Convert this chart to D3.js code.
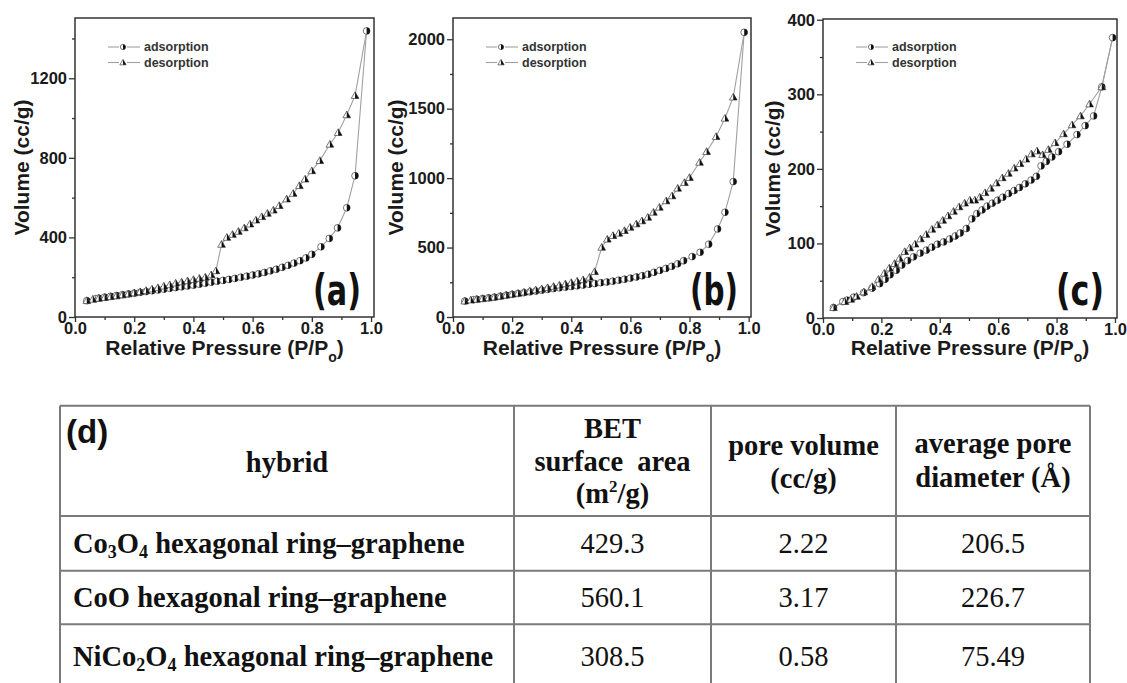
<!DOCTYPE html>
<html>
<head>
<meta charset="utf-8">
<script src="https://cdn.jsdelivr.net/npm/d3@7"></script>
<style>
  body { margin: 0; background: #fff; }
  svg { display: block; }
</style>
</head>
<body>
<svg id="fig" width="1127" height="683"></svg>
<script>
// ---- isotherm data: [P/Po, volume cc/g] ----
const adsA = [[0.04,82],[0.07,92],[0.08,95],[0.10,100],[0.12,104],[0.14,108],[0.16,112],[0.18,116],[0.20,120],[0.22,124],[0.24,128],[0.26,132],[0.28,136],[0.30,140],[0.32,144],[0.34,148],[0.36,152],[0.38,156],[0.40,160],[0.42,165],[0.44,170],[0.46,175],[0.48,180],[0.50,184],[0.52,189],[0.54,194],[0.56,200],[0.58,205],[0.60,211],[0.62,217],[0.64,224],[0.66,232],[0.68,240],[0.70,250],[0.72,260],[0.74,271],[0.76,283],[0.78,297],[0.80,315],[0.831,353],[0.859,395],[0.887,448],[0.918,549],[0.946,710],[0.985,1438]];
const desA = [[0.985,1438],[0.946,1113],[0.918,1016],[0.889,927],[0.861,868],[0.827,786],[0.80,735],[0.777,693],[0.758,660],[0.737,621],[0.715,593],[0.690,560],[0.670,537],[0.650,521],[0.631,504],[0.611,487],[0.591,467],[0.572,448],[0.552,430],[0.532,415],[0.513,400],[0.495,365],[0.476,232],[0.46,212],[0.44,200],[0.42,194],[0.40,188],[0.38,182],[0.36,176],[0.34,170],[0.32,162],[0.30,155],[0.28,147],[0.26,140],[0.24,133],[0.22,127],[0.20,121],[0.18,116],[0.16,111],[0.14,106],[0.12,102],[0.10,98],[0.08,94],[0.06,89],[0.04,82]];

const adsB = [[0.04,115],[0.07,125],[0.08,128],[0.10,133],[0.12,138],[0.14,143],[0.16,150],[0.18,157],[0.20,163],[0.22,169],[0.24,175],[0.26,181],[0.28,187],[0.30,193],[0.32,199],[0.34,205],[0.36,210],[0.38,215],[0.40,220],[0.42,225],[0.44,230],[0.46,236],[0.48,241],[0.50,247],[0.52,252],[0.54,258],[0.56,265],[0.58,272],[0.60,280],[0.62,288],[0.64,297],[0.66,308],[0.68,322],[0.70,336],[0.72,350],[0.74,365],[0.76,383],[0.78,405],[0.809,435],[0.836,466],[0.865,524],[0.895,634],[0.92,754],[0.948,975],[0.985,2050]];
const desB = [[0.985,2050],[0.948,1583],[0.92,1431],[0.89,1299],[0.858,1191],[0.834,1114],[0.80,1004],[0.783,968],[0.76,927],[0.741,872],[0.721,836],[0.698,790],[0.678,754],[0.659,718],[0.639,692],[0.62,670],[0.599,646],[0.58,622],[0.561,603],[0.541,586],[0.522,560],[0.503,502],[0.479,326],[0.462,286],[0.44,268],[0.42,258],[0.40,248],[0.38,238],[0.36,229],[0.34,220],[0.32,211],[0.30,203],[0.28,195],[0.26,187],[0.24,179],[0.22,171],[0.20,164],[0.18,157],[0.16,150],[0.14,143],[0.12,137],[0.10,132],[0.08,127],[0.06,122],[0.04,115]];

const adsC = [[0.036,14],[0.068,22],[0.082,24],[0.105,28],[0.139,34],[0.168,40],[0.194,46],[0.213,52],[0.23,58],[0.251,64],[0.27,71],[0.29,77],[0.31,82],[0.333,87],[0.354,91],[0.373,95],[0.392,99],[0.413,102],[0.434,106],[0.453,110],[0.47,114],[0.491,120],[0.51,133],[0.527,140],[0.545,145],[0.562,150],[0.58,154],[0.598,158],[0.616,162],[0.636,167],[0.655,171],[0.673,175],[0.693,180],[0.713,185],[0.731,190],[0.747,204],[0.765,210],[0.784,216],[0.807,223],[0.836,233],[0.87,246],[0.898,258],[0.927,271],[0.955,310],[0.992,376]];
const desC = [[0.992,376],[0.955,310],[0.913,287],[0.882,271],[0.853,259],[0.824,247],[0.795,235],[0.772,226],[0.752,219],[0.733,224],[0.714,220],[0.695,213],[0.675,207],[0.655,201],[0.635,194],[0.614,188],[0.594,181],[0.574,174],[0.555,168],[0.537,162],[0.52,158],[0.503,158],[0.485,154],[0.466,149],[0.447,143],[0.428,137],[0.41,131],[0.392,125],[0.373,119],[0.353,112],[0.334,106],[0.315,99],[0.297,94],[0.28,89],[0.262,80],[0.245,73],[0.227,67],[0.21,60],[0.19,52],[0.168,42],[0.14,35],[0.115,29],[0.095,25],[0.075,22],[0.036,14]];

const xTicks = [0, 0.2, 0.4, 0.6, 0.8, 1.0];
const xMinor = [0.1, 0.3, 0.5, 0.7, 0.9];
const yTicksA = [0, 400, 800, 1200], yMinorA = [200, 600, 1000, 1400];
const yTicksB = [0, 500, 1000, 1500, 2000], yMinorB = [250, 750, 1250, 1750];
const yTicksC = [0, 100, 200, 300, 400], yMinorC = [50, 150, 250, 350];
const seriesNames = ["adsorption", "desorption"];
const panelLabels = ["(a)", "(b)", "(c)"];

// ---- table (d) ----
// each hybrid name: list of [text, isSubscript]
const tableHybrids = [
  [["Co", 0], ["3", 1], ["O", 0], ["4", 1], [" hexagonal ring\u2013graphene", 0]],
  [["CoO hexagonal ring\u2013graphene", 0]],
  [["NiCo", 0], ["2", 1], ["O", 0], ["4", 1], [" hexagonal ring\u2013graphene", 0]]
];
const betArea = ["429.3", "560.1", "308.5"];
const poreVolume = ["2.22", "3.17", "0.58"];
const poreDiameter = ["206.5", "226.7", "75.49"];

const sans = "Liberation Sans, Arial, sans-serif";
const svg = d3.select("#fig");
svg.append("rect").attr("width", 1127).attr("height", 683).attr("fill", "#fff");

const panels = [
  { ads: adsA, des: desA, left: 75, top: 18, w: 299, h: 299, xmax: 1.01, ymax: 1503, yt: yTicksA, ym: yMinorA, ylabX: 22, label: panelLabels[0] },
  { ads: adsB, des: desB, left: 453, top: 18, w: 298, h: 299, xmax: 1.008, ymax: 2153, yt: yTicksB, ym: yMinorB, ylabX: 396, label: panelLabels[1] },
  { ads: adsC, des: desC, left: 823, top: 19, w: 294, h: 299, xmax: 1.007, ymax: 401, yt: yTicksC, ym: yMinorC, ylabX: 773, label: panelLabels[2] }
];

function drawMarker(g, shape, r) {
  if (shape === "circle") {
    g.append("circle").attr("r", r).attr("fill", "#fff").attr("stroke", "#555").attr("stroke-width", 0.8);
    g.append("path").attr("d", `M0,${-r}A${r},${r} 0 0 1 0,${r}Z`).attr("fill", "#111");
  } else {
    const t = r * 1.2;
    g.append("path").attr("d", `M0,${-t}L${t},${t * 0.75}L${-t},${t * 0.75}Z`)
      .attr("fill", "#fff").attr("stroke", "#555").attr("stroke-width", 0.8);
    g.append("path").attr("d", `M0,${-t}L${t},${t * 0.75}L0,${t * 0.75}Z`).attr("fill", "#111");
  }
}

function styleAxis(s) {
  s.select(".domain").remove();
  s.selectAll(".tick line").attr("stroke", "#333").attr("stroke-width", 1.3);
  s.selectAll(".tick text").attr("font-family", sans).attr("font-weight", "bold")
    .attr("font-size", 16.5).attr("fill", "#1a1a1a");
}

panels.forEach(p => {
  const x = d3.scaleLinear().domain([0, p.xmax]).range([p.left, p.left + p.w]);
  const y = d3.scaleLinear().domain([0, p.ymax]).range([p.top + p.h, p.top]);
  const g = svg.append("g");
  const bottom = p.top + p.h;

  g.append("g").attr("transform", `translate(0,${bottom})`)
    .call(d3.axisBottom(x).tickValues(xTicks).tickSize(5).tickPadding(0).tickFormat(d3.format(".1f")))
    .call(styleAxis);
  g.append("g").attr("transform", `translate(0,${bottom})`)
    .call(d3.axisBottom(x).tickValues(xMinor).tickSize(3).tickFormat(""))
    .call(styleAxis);
  g.append("g").attr("transform", `translate(${p.left},0)`)
    .call(d3.axisLeft(y).tickValues(p.yt).tickSize(6).tickPadding(2).tickFormat(d3.format("d")))
    .call(styleAxis);
  g.append("g").attr("transform", `translate(${p.left},0)`)
    .call(d3.axisLeft(y).tickValues(p.ym).tickSize(3).tickFormat(""))
    .call(styleAxis);

  g.append("rect").attr("x", p.left).attr("y", p.top).attr("width", p.w).attr("height", p.h)
    .attr("fill", "none").attr("stroke", "#333").attr("stroke-width", 1.5);

  const line = d3.line().x(d => x(d[0])).y(d => y(d[1]));
  [p.ads, p.des].forEach(s => {
    g.append("path").attr("d", line(s)).attr("fill", "none").attr("stroke", "#a0a0a0").attr("stroke-width", 1.1);
  });
  g.selectAll(".ads").data(p.ads).join("g").attr("class", "ads")
    .attr("transform", d => `translate(${x(d[0])},${y(d[1])})`)
    .each(function () { drawMarker(d3.select(this), "circle", 3.4); });
  g.selectAll(".des").data(p.des.slice(1)).join("g").attr("class", "des")
    .attr("transform", d => `translate(${x(d[0])},${y(d[1])})`)
    .each(function () { drawMarker(d3.select(this), "tri", 3.2); });

  // legend
  seriesNames.forEach((name, i) => {
    const ly = 47 + i * 15.5;
    g.append("line").attr("x1", p.left + 33).attr("x2", p.left + 65).attr("y1", ly).attr("y2", ly)
      .attr("stroke", "#a0a0a0").attr("stroke-width", 1.1);
    const m = g.append("g").attr("transform", `translate(${p.left + 48},${ly})`);
    m.append("rect").attr("x", -4).attr("y", -4).attr("width", 8).attr("height", 8).attr("fill", "#fff");
    drawMarker(m, i === 0 ? "circle" : "tri", 2.6);
    g.append("text").attr("x", p.left + 69).attr("y", ly + 4.3).text(name)
      .attr("font-family", sans).attr("font-weight", "bold")
      .attr("font-size", 12.5).attr("fill", "#333");
  });

  // panel letter
  g.append("text").attr("x", p.left + p.w - 61).attr("y", 305)
    .attr("textLength", 48).attr("lengthAdjust", "spacingAndGlyphs")
    .attr("font-family", "DejaVu Sans, sans-serif").attr("font-weight", "bold")
    .attr("font-size", 43).attr("fill", "#111").text(p.label);

  // axis titles
  g.append("text").attr("transform", `translate(${p.ylabX + 7},${p.top + p.h / 2}) rotate(-90)`)
    .attr("text-anchor", "middle").attr("font-family", sans)
    .attr("font-weight", "bold").attr("font-size", 21).attr("fill", "#1a1a1a").text("Volume (cc/g)");
  const xl = g.append("text").attr("x", p.left + p.w / 2).attr("y", 355).attr("text-anchor", "middle")
    .attr("font-family", sans).attr("font-weight", "bold")
    .attr("font-size", 21).attr("fill", "#1a1a1a");
  xl.append("tspan").text("Relative Pressure (P/P");
  xl.append("tspan").attr("font-size", 14).attr("dy", 7).text("o");
  xl.append("tspan").attr("dy", -7).text(")");
});

// ---- table drawing ----
const tbl = svg.append("g");
const colX = [60, 514, 711, 896, 1090];
const rowY = [405.7, 516, 570.7, 624.3];
const lineColor = "#7a7a7a";
rowY.forEach(yy => {
  tbl.append("line").attr("x1", colX[0]).attr("x2", colX[4]).attr("y1", yy).attr("y2", yy)
    .attr("stroke", lineColor).attr("stroke-width", 2);
});
colX.forEach(xx => {
  tbl.append("line").attr("x1", xx).attr("x2", xx).attr("y1", rowY[0]).attr("y2", 683)
    .attr("stroke", lineColor).attr("stroke-width", 2);
});

const serif = "Liberation Serif, Times New Roman, serif";
function cellText(xx, yy, anchor, weight) {
  return tbl.append("text").attr("x", xx).attr("y", yy).attr("text-anchor", anchor)
    .attr("font-family", serif).attr("font-weight", weight).attr("font-size", 28.5)
    .attr("fill", "#111").style("white-space", "pre");
}
tbl.append("text").attr("x", 66).attr("y", 443).attr("font-family", sans)
  .attr("font-weight", "bold").attr("font-size", 33).attr("fill", "#111").text("(d)");

const colMid = [0, 1, 2, 3].map(i => (colX[i] + colX[i + 1]) / 2);
cellText(colMid[0], 472, "middle", "bold").text("hybrid");
cellText(colMid[1], 438, "middle", "bold").text("BET");
cellText(colMid[1], 471, "middle", "bold").text("surface  area");
const m2 = cellText(colMid[1], 503, "middle", "bold");
m2.append("tspan").text("(m");
m2.append("tspan").attr("font-size", 17).attr("dy", -11).text("2");
m2.append("tspan").attr("dy", 11).text("/g)");
cellText(colMid[2], 455, "middle", "bold").text("pore volume");
cellText(colMid[2], 488, "middle", "bold").text("(cc/g)");
cellText(colMid[3], 453, "middle", "bold").text("average pore");
cellText(colMid[3], 487, "middle", "bold").text("diameter (\u00C5)");

const rowBase = [553, 607, 666];
tableHybrids.forEach((parts, i) => {
  const t = cellText(73, rowBase[i], "start", "bold");
  let shifted = 0;
  parts.forEach(([s, sub]) => {
    const dy = sub ? 5 - shifted : -shifted;
    shifted = sub ? 5 : 0;
    const ts = t.append("tspan").attr("dy", dy).text(s);
    if (sub) ts.attr("font-size", 18);
  });
  cellText(colMid[1], rowBase[i], "middle", "normal").text(betArea[i]);
  cellText(colMid[2], rowBase[i], "middle", "normal").text(poreVolume[i]);
  cellText(colMid[3], rowBase[i], "middle", "normal").text(poreDiameter[i]);
});
</script>
</body>
</html>
